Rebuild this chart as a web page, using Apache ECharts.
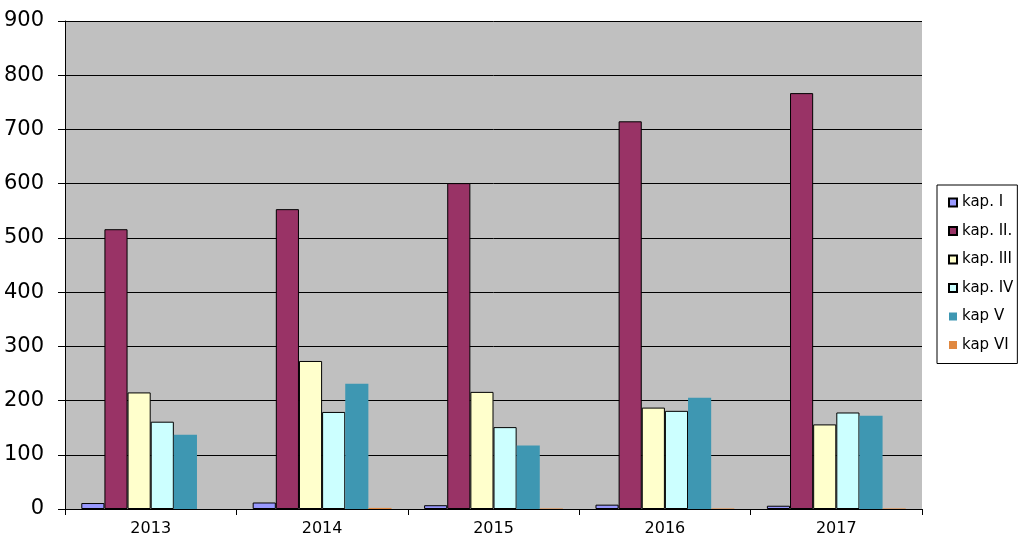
<!DOCTYPE html>
<html>
<head>
<meta charset="utf-8">
<script src="https://cdn.jsdelivr.net/npm/echarts@6/dist/echarts.min.js"></script>
<style>html,body{margin:0;padding:0;background:#fff}#c{width:1023px;height:553px}</style>
</head>
<body>
<div id="c"></div>
<script>
const categories = ['2013', '2014', '2015', '2016', '2017'];
const seriesNames = ['kap. I', 'kap. II.', 'kap. III', 'kap. IV', 'kap V', 'kap VI'];
const kapI = [11, 12, 7, 8, 6];
const kapII = [516, 553, 601, 715, 767];
const kapIII = [215, 273, 216, 187, 156];
const kapIV = [161, 179, 151, 181, 178];
const kapV = [137, 231, 117, 205, 172];
const kapVI = [0, 2, 1, 1, 1];
const yTicks = [0, 100, 200, 300, 400, 500, 600, 700, 800, 900];

const colors = ['#9999ff', '#993366', '#ffffcc', '#ccffff', '#3e97b2', '#e08840'];
const borders = [1, 1, 1, 1, 0, 0];
const allData = [kapI, kapII, kapIII, kapIV, kapV, kapVI];

const chart = echarts.init(document.getElementById('c'), null, {renderer: 'canvas'});
chart.setOption({
  animation: false,
  textStyle: {fontFamily: 'DejaVu Sans, sans-serif'},
  grid: {left: 65, right: 101, top: 21, bottom: 44, show: true, backgroundColor: '#c0c0c0', borderWidth: 0},
  legend: {
    orient: 'vertical', left: 937, top: 185,
    padding: [10, 4, 11, 11],
    borderColor: '#000', borderWidth: 1,
    itemWidth: 8, itemHeight: 8, itemGap: 13.5,
    icon: 'rect',
    textStyle: {fontSize: 15, color: '#000', padding: [0, 0, 0, 0], fontFamily: 'DejaVu Sans, sans-serif'},
    data: seriesNames
  },
  xAxis: {
    type: 'category', data: categories,
    axisLine: {show: true, lineStyle: {color: '#000', width: 1}},
    axisTick: {show: true, alignWithLabel: false, length: 6, lineStyle: {color: '#000'}},
    axisLabel: {fontSize: 16, color: '#000', margin: 12},
    splitLine: {show: false}
  },
  yAxis: {
    type: 'value', min: yTicks[0], max: yTicks[yTicks.length - 1], interval: 100,
    axisLine: {show: true, lineStyle: {color: '#000', width: 1}},
    axisTick: {show: true, length: 7, lineStyle: {color: '#000'}},
    axisLabel: {fontSize: 21, color: '#000', margin: 21},
    splitLine: {show: true, lineStyle: {color: '#000', width: 1}}
  },
  series: seriesNames.map((n, i) => ({
    name: n, type: 'bar', data: allData[i],
    barGap: '0%', barCategoryGap: '19%',
    itemStyle: {color: colors[i], borderColor: '#000', borderWidth: borders[i]}
  }))
});
</script>
</body>
</html>
